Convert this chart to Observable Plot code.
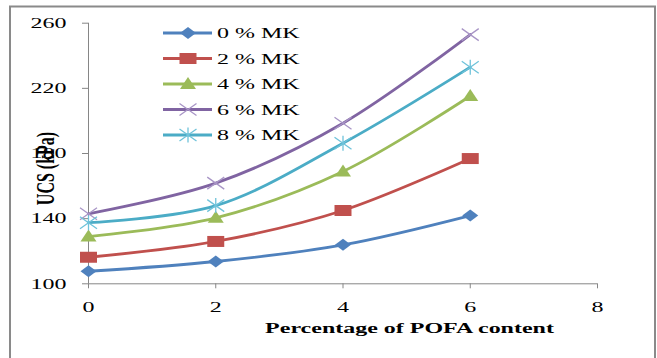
<!DOCTYPE html>
<html>
<head>
<meta charset="utf-8">
<script src="https://cdn.jsdelivr.net/npm/d3@7"></script>
<script src="https://cdn.jsdelivr.net/npm/@observablehq/plot@0.6"></script>
<style>
  html, body { margin: 0; padding: 0; background: #fff; }
  svg { display: block; }
</style>
</head>
<body>
<div id="chart"></div>
<script>
// ---- data ----
const pofa = [0, 2, 4, 6];
const mk0 = [107.7, 113.7, 123.9, 141.9];
const mk2 = [116.3, 126.0, 145.0, 176.9];
const mk4 = [129.0, 140.5, 169.0, 215.3];
const mk6 = [143.0, 161.8, 198.6, 253.0];
const mk8 = [137.5, 148.0, 186.3, 233.0];
const seriesNames = ["0 % MK", "2 % MK", "4 % MK", "6 % MK", "8 % MK"];
const seriesValues = [mk0, mk2, mk4, mk6, mk8];
const xTicks = [0, 2, 4, 6, 8];
const yTicks = [100, 140, 180, 220, 260];
const xTitle = "Percentage of POFA content";
const yTitle = "UCS (kPa)";

// ---- styles ----
const SX = 1.6; // horizontal stretch of the reference
const lineColors = ["#4F81BD", "#C0504D", "#9BBB59", "#8064A2", "#4BACC6"];
const sym = {
  diamond: {draw(c){c.moveTo(0,-6);c.lineTo(8,0);c.lineTo(0,6);c.lineTo(-8,0);c.closePath();}},
  square: {draw(c){c.moveTo(-8.5,-5.5);c.lineTo(8.5,-5.5);c.lineTo(8.5,5.5);c.lineTo(-8.5,5.5);c.closePath();}},
  triangle: {draw(c){c.moveTo(0,-7);c.lineTo(8,5);c.lineTo(-8,5);c.closePath();}},
  times: {draw(c){c.moveTo(-8.5,-6);c.lineTo(8.5,6);c.moveTo(-8.5,6);c.lineTo(8.5,-6);}},
  asterisk: {draw(c){c.moveTo(-8.5,-6);c.lineTo(8.5,6);c.moveTo(-8.5,6);c.lineTo(8.5,-6);c.moveTo(0,-7.5);c.lineTo(0,7.5);}}
};
const markerStyles = [
  {symbol: sym.diamond, fill: "#4F81BD", stroke: "none", strokeWidth: 0},
  {symbol: sym.square, fill: "#C0504D", stroke: "none", strokeWidth: 0},
  {symbol: sym.triangle, fill: "#9BBB59", stroke: "none", strokeWidth: 0},
  {symbol: sym.times, fill: "none", stroke: "#A895C6", strokeWidth: 1.3},
  {symbol: sym.asterisk, fill: "none", stroke: "#6FC3DA", strokeWidth: 1.3}
];

const rows = seriesNames.map((name, s) => pofa.map((x, i) => ({name, x, y: seriesValues[s][i]})));

const marks = [
  Plot.ruleY([100], {stroke: "#868686", strokeWidth: 1}),
  Plot.ruleX([0], {stroke: "#868686", strokeWidth: 1}),
  Plot.axisY({ticks: yTicks, tickSize: 6, tickPadding: 16, stroke: "#868686", fill: "black", label: null, tickFormat: d => String(d)}),
  Plot.axisX({ticks: xTicks, tickSize: 5, tickPadding: 13, stroke: "#868686", fill: "black", label: null, tickFormat: d => String(d)})
];
rows.forEach((data, s) => {
  marks.push(Plot.line(data, {x: "x", y: "y", stroke: lineColors[s], strokeWidth: 2.8, curve: "catmull-rom"}));
  marks.push(Plot.dot(data, {x: "x", y: "y", r: 5, ...markerStyles[s]}));
});

const plot = Plot.plot({
  width: 657,
  height: 358,
  marginLeft: 88,
  marginRight: 60,
  marginTop: 22.7,
  marginBottom: 74.7,
  x: {domain: [0, 8]},
  y: {domain: [100, 260]},
  style: {fontFamily: "'Liberation Serif', 'Times New Roman', serif", fontSize: "15px", color: "black", background: "white"},
  marks
});

// stretch tick labels horizontally like the reference
plot.querySelectorAll("text").forEach(t => {
  let tr = t.getAttribute("transform") || "";
  const x = t.getAttribute("x");
  if (x != null && !isNaN(+x)) { t.removeAttribute("x"); tr += ` translate(${x},0)`; }
  t.setAttribute("transform", `${tr} scale(${SX},1)`);
});

const svg = d3.select(plot);
// outer frame
svg.insert("rect", ":first-child")
  .attr("x", 10).attr("y", 6.5).attr("width", 645).attr("height", 400)
  .attr("fill", "none").attr("stroke", "#8a8a8a").attr("stroke-width", 2);

// y title
svg.append("text")
  .attr("transform", `translate(54,168.5) rotate(-90) scale(1,${SX})`)
  .attr("text-anchor", "middle").attr("font-weight", "bold").attr("font-size", 16)
  .attr("fill", "black").text(yTitle);
// x title
svg.append("text")
  .attr("transform", `translate(409.5,333) scale(${SX},1)`)
  .attr("text-anchor", "middle").attr("font-weight", "bold").attr("font-size", 15)
  .attr("fill", "black").text(xTitle);

// legend
const lg = svg.append("g").attr("text-anchor", "start");
seriesNames.forEach((name, s) => {
  const y = 33 + s * 25.5;
  lg.append("line").attr("x1", 163).attr("x2", 212).attr("y1", y).attr("y2", y)
    .attr("stroke", lineColors[s]).attr("stroke-width", 2.8);
  const m = markerStyles[s];
  lg.append("path").attr("d", d3.symbol(m.symbol)()).attr("transform", `translate(188,${y})`)
    .attr("fill", m.fill).attr("stroke", m.stroke).attr("stroke-width", m.strokeWidth);
  lg.append("text").attr("transform", `translate(217,${y + 5}) scale(${SX},1)`)
    .attr("text-anchor", "start")
    .attr("font-size", 15).attr("fill", "black").text(name);
});

document.getElementById("chart").append(plot);
</script>
</body>
</html>
